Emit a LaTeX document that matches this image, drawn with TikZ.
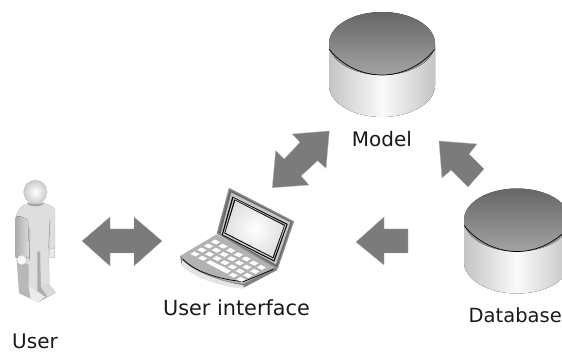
\documentclass[tikz,border=0pt]{standalone}
\usepackage{fontspec}
\setmainfont{DejaVu Sans}
\usetikzlibrary{calc}
\definecolor{arrowgray}{HTML}{7B7B7B}
\tikzset{
  blockarrow/.style={fill=arrowgray,draw=arrowgray!60!white,line width=0.3pt,line join=miter},
  label/.style={font=\fontsize{20}{23}\selectfont,text=black!90,inner sep=0pt,anchor=base},
  zoomthree/.style={x=0.33333pt,y=-0.33333pt},
  key/.style={fill=white,draw=none}
}
\newcommand{\cylinder}[2]{%
  \fill[left color=black!23,right color=black!23,middle color=black!2]
    (#1-53,#2) -- (#1-53,#2+42) arc[start angle=180,end angle=0,x radius=53,y radius=31.5]
    -- (#1+53,#2) -- cycle;
  \fill[top color=black!60,bottom color=black!36]
    (#1,#2) ellipse[x radius=53,y radius=31.5];
  \draw[black,line width=0.7pt] (#1-53,#2+5.5) .. controls (#1-40,#2+22) and (#1-20,#2+31.5) .. (#1,#2+31.5)
    .. controls (#1+20,#2+31.5) and (#1+40,#2+22) .. (#1+53,#2+5.5);
}
\begin{document}
\begin{tikzpicture}[x=1pt,y=-1pt]
\useasboundingbox (0,0) rectangle (562,352);
\clip (0,0) rectangle (562,352);

% cylinders
\cylinder{382}{43.5}
\cylinder{517}{220}

% block arrows
\fill[blockarrow] (82,241) -- (110,217) -- (110,229) -- (134,229) -- (134,217) -- (162,241)
  -- (134,266) -- (134,253) -- (110,253) -- (110,266) -- cycle;
\fill[blockarrow] (356,242) -- (384,217) -- (384,229) -- (408,229) -- (408,253) -- (384,253) -- (384,265) -- cycle;
\fill[blockarrow] (439,141) -- (477,144) -- (469,154) -- (484,169) -- (468,187) -- (451,170) -- (442,178) -- cycle;
\fill[blockarrow] (329.3,131) -- (292.3,134) -- (300,142.3) -- (284.3,159) -- (275.7,150.7) -- (272.3,187.7)
  -- (309,185) -- (301,176) -- (317.7,160.7) -- (326,168.3) -- cycle;

% user
\begin{scope}[shift={(0,170)},zoomthree]
  % back of legs and feet
  \fill[black!28] (50,270) -- (57,370) -- (115,397) -- (168,368) -- (145,340) -- (110,290) -- cycle;
  % body
  \fill[black!13,draw=black!25,line width=0.3pt] (85,100) .. controls (65,105) and (50,120) .. (47,145) -- (47,260)
    -- (85,285) -- (85,345) -- (113,365) -- (112,245) -- (120,245) -- (123,350) -- (148,345) -- (146,235)
    -- (165,235) -- (165,120) .. controls (160,108) and (145,102) .. (130,100) -- cycle;
  \fill[left color=black!32,right color=black!13] (47,145) .. controls (48,137) and (60,135) .. (84,150) -- (88,262) -- (47,262) -- cycle;
  % leg shading
  \fill[black!28] (57,285) -- (85,285) -- (85,345) -- (110,372) -- (60,370) -- cycle;
  \fill[black!32] (112,245) -- (120,245) -- (122,350) -- (158,368) -- (135,380) -- (113,365) -- cycle;
  \fill[black!8] (85,345) -- (113,365) -- (135,380) -- (115,397) -- (92,386) -- cycle;
  \fill[black!15] (122,350) -- (148,345) -- (168,368) -- (142,380) -- cycle;
  \draw[black!45,line width=0.5pt] (90,175) -- (88,270);
  \draw[black!45,line width=0.5pt] (150,150) -- (146,235);
  % hands
  \fill[black!8,draw=black!35,line width=0.3pt] (148,238) -- (163,233) -- (165,262) -- (150,264) -- cycle;
  \shade[inner color=white,outer color=black!5,draw=black!30,line width=0.2pt] (65,270) circle[radius=15];
  % neck shadow
  \fill[black!35] (82,96) .. controls (95,105) and (120,105) .. (132,96) -- (128,104) .. controls (115,112) and (95,110) .. (85,104) -- cycle;
  % head
  \shade[inner color=white,outer color=black!20,draw=black!30,line width=0.3pt] (106,66) circle[radius=35];
\end{scope}

% laptop
\begin{scope}[shift={(175,180)},zoomthree]
  % base
  \fill[black!30] (15,228) -- (125,163) -- (307,262) -- (205,322) .. controls (140,315) and (60,290) .. (20,255) -- cycle;
  \fill[black!50] (17,228) .. controls (60,280) and (140,305) .. (205,312) -- (300,262) -- (307,270) -- (208,322)
    .. controls (140,315) and (50,290) .. (18,248) -- cycle;
  \fill[black!10] (22,240) .. controls (60,280) and (140,305) .. (205,316) -- (206,326) .. controls (140,320) and (50,295) .. (20,252) -- cycle;
  \draw[black,line width=0.7pt] (24,238) .. controls (60,275) and (130,298) .. (205,305);
  \draw[black,line width=0.7pt] (205,305) -- (295,268);
  % lid
  \fill[black!58,draw=black!45,line width=1.2pt,line join=round] (163,26) -- (355,125) -- (307,265) -- (127,160) -- cycle;
  \fill[black!22] (169,38) -- (346,127) -- (303,253) -- (137,162) -- cycle;
  \fill[black] (172,50) -- (338,132) -- (298,245) -- (140,165) -- cycle;
  \fill[black!22] (175,54) -- (334,134) -- (296,240) -- (144,164) -- cycle;
  \fill[black] (178,58) -- (330,135) -- (295,235) -- (148,160) -- cycle;
  \shade[inner color=white,outer color=black!12] (181,62) -- (327,137) -- (293,231) -- (151,158) -- cycle;
  % keys
  \foreach \i/\jlist in {0/{0,1,5,6},1/{0,1,2,3,4,5,6},2/{0,1,2,3,4,5,6},3/{0,1,2,3,4,5,6}} {
    \foreach \j in \jlist {
      \fill[key] ($(60,222)+\j*(23,12.7)+\i*(20.5,-12)+(-14,0)$) -- ++(12,-7.5) -- ++(16,7.5) -- ++(-12,7.5) -- cycle;
    }
  }
  \fill[key] (93,248) -- (105,241) -- (168,272) -- (156,281) -- cycle;
\end{scope}

% labels
\node[label] (model) at (382,146.7) {Model};
\node[label,font=\fontsize{20.8}{23}\selectfont] (ui) at (236.5,315.7) {User interface};
\node[label] (user) at (35,348.5) {User};
\node[label,font=\fontsize{19.5}{23}\selectfont,anchor=base west] (db) at (468.5,323) {Database};
\end{tikzpicture}
\end{document}
